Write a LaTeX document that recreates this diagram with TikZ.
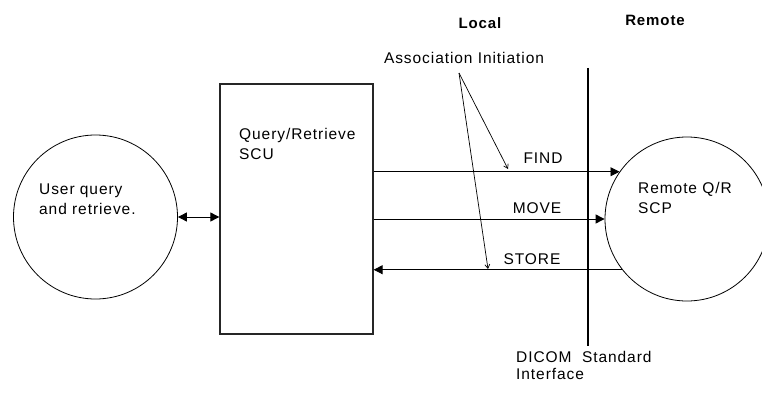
\documentclass[tikz,border=0pt]{standalone}
\usepackage{fontspec}
\setmainfont{Liberation Sans}[LetterSpace=6]
\usetikzlibrary{arrows.meta}
\begin{document}
\begin{tikzpicture}[x=1pt,y=-1pt,
  lbl/.style={inner sep=0pt,font=\fontsize{15.5}{20}\selectfont},
  blbl/.style={lbl,font=\fontsize{15}{20}\selectfont\bfseries},
  ring/.style={circle,draw=black,line width=0.8pt,minimum size=164pt,inner sep=0pt},
  box/.style={rectangle,draw=black!85,line width=1.3pt,minimum width=153pt,minimum height=250pt,inner sep=0pt},
  flow/.style={line width=0.9pt,-{Triangle[length=9pt,width=9pt]}},
  both/.style={line width=0.9pt,{Triangle[length=9pt,width=9pt]}-{Triangle[length=9pt,width=9pt]}},
  assoc/.style={line width=0.7pt,-{Straight Barb[length=4pt,width=5pt]}},
  iface/.style={line width=2.6pt}]
\useasboundingbox (0,0) rectangle (762,393);
\fill[white] (0,0) rectangle (762,393);

% shapes
\node[ring] (lc) at (95.5,217) {};
\node[ring] (rc) at (687,219) {};
\node[box] (rq) at (296.5,209) {};

% texts
\node[blbl] (local) at (480,23) {Local};
\node[blbl] (remote) at (655,20) {Remote};
\node[lbl] (ai) at (464,58) {Association Initiation};
\node[lbl,align=left,anchor=west] (rqt) at (239,144) {Query/Retrieve\\SCU};
\node[lbl,align=left,anchor=west] (lct) at (39,199) {User query\\and retrieve.};
\node[lbl,align=left,anchor=west] (rct) at (638,198) {Remote Q/R\\SCP};
\node[lbl] (find) at (543,158) {FIND};
\node[lbl] (move) at (537,208) {MOVE};
\node[lbl] (store) at (532,259) {STORE};
\node[lbl,align=left,anchor=west] (dicom) at (516,365) {DICOM\ \ Standard\\[-3pt]Interface};

% DICOM interface line
\coordinate (itop) at (588,68);
\coordinate (ibot) at (588,346);
\draw[iface] (itop) -- (ibot);

% connectors
\draw[both] (lc.east) -- (rq.west |- lc.east);
\draw[flow] (rq.east |- rc.145) -- (rc.145);
\draw[flow] (rq.east |- rc.180) -- (rc.180);
\draw[flow] (rc.218) -- (rq.east |- rc.218);

% association initiation pointers
\coordinate (apex) at (459,73);
\coordinate (af) at (508,169);
\coordinate (as) at (488,269);
\draw[assoc] (apex) -- (af);
\draw[assoc] (apex) -- (as);
\end{tikzpicture}
\end{document}
